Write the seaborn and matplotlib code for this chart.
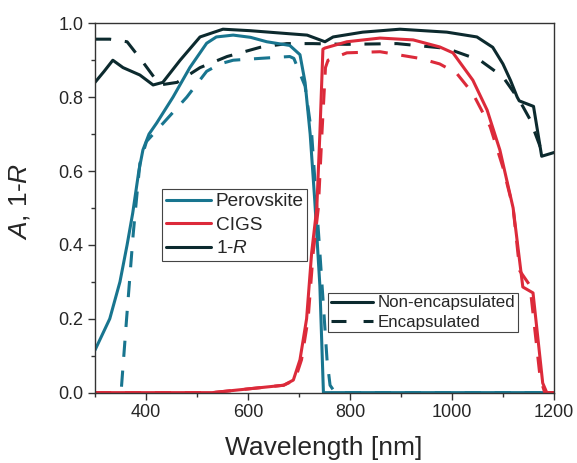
import matplotlib
matplotlib.use("Agg")
import matplotlib.pyplot as plt
from matplotlib.lines import Line2D
from matplotlib.ticker import MultipleLocator, FormatStrFormatter
import pandas as pd
import seaborn as sns

# Perovskite absorptance
pero_wl = [300, 329, 349, 363, 374, 386, 394, 406, 421, 453, 486, 519, 538, 571, 605, 637, 682, 702, 712, 722, 731, 741, 748, 760, 1200]
pero_A = [0.115, 0.20, 0.30, 0.40, 0.486, 0.60, 0.657, 0.70, 0.73, 0.80, 0.88, 0.946, 0.963, 0.968, 0.962, 0.95, 0.94, 0.915, 0.84, 0.70, 0.52, 0.29, 0.0, 0.0, 0.0]
pero_enc_wl = [352, 362, 375, 388, 401, 434, 480, 519, 545, 571, 624, 682, 690, 712, 725, 741, 755, 761, 771, 1200]
pero_enc_A = [0.016, 0.20, 0.43, 0.62, 0.68, 0.73, 0.80, 0.87, 0.89, 0.90, 0.905, 0.91, 0.905, 0.83, 0.70, 0.38, 0.09, 0.02, 0.0, 0.0]

# CIGS absorptance
cigs_wl = [300, 530, 600, 670, 689, 702, 715, 725, 735, 741, 747, 751, 794, 859, 924, 976, 1002, 1041, 1069, 1094, 1120, 1139, 1159, 1178, 1186, 1200]
cigs_A = [0.0, 0.0, 0.01, 0.02, 0.034, 0.089, 0.20, 0.38, 0.50, 0.70, 0.93, 0.933, 0.95, 0.96, 0.955, 0.936, 0.92, 0.846, 0.765, 0.657, 0.50, 0.286, 0.27, 0.026, 0.0, 0.0]
cigs_enc_wl = [300, 530, 600, 670, 692, 705, 718, 728, 738, 745, 752, 757, 794, 859, 937, 976, 1009, 1041, 1075, 1100, 1120, 1133, 1153, 1173, 1182, 1200]
cigs_enc_A = [0.0, 0.0, 0.01, 0.02, 0.034, 0.089, 0.20, 0.38, 0.50, 0.70, 0.88, 0.90, 0.92, 0.923, 0.905, 0.89, 0.865, 0.81, 0.72, 0.61, 0.50, 0.33, 0.29, 0.04, 0.0, 0.0]

# 1-R
r_wl = [300, 318, 335, 355, 388, 414, 433, 467, 506, 551, 604, 669, 716, 751, 767, 825, 898, 990, 1049, 1080, 1100, 1115, 1128, 1132, 1160, 1176, 1200]
r_val = [0.84, 0.87, 0.90, 0.88, 0.86, 0.833, 0.84, 0.90, 0.963, 0.984, 0.98, 0.973, 0.968, 0.95, 0.963, 0.976, 0.984, 0.976, 0.963, 0.935, 0.89, 0.845, 0.80, 0.79, 0.775, 0.64, 0.65]
r_enc_wl = [300, 329, 363, 394, 427, 461, 506, 559, 624, 676, 727, 794, 892, 990, 1055, 1100, 1133, 1153, 1173, 1198]
r_enc_val = [0.957, 0.957, 0.95, 0.895, 0.833, 0.84, 0.88, 0.91, 0.935, 0.945, 0.945, 0.943, 0.945, 0.932, 0.90, 0.855, 0.79, 0.74, 0.666, 0.65]

c_pero = "#18758f"
c_cigs = "#dc2a3a"
c_r = "#0c2a2e"

sns.set_style("ticks")
plt.rcParams["font.family"] = ["Liberation Sans", "DejaVu Sans"]
plt.rcParams["mathtext.fontset"] = "custom"
plt.rcParams["mathtext.it"] = "Liberation Sans:italic"
plt.rcParams["mathtext.rm"] = "Liberation Sans"

fig = plt.figure(figsize=(5.77, 4.63), dpi=100)
ax = fig.add_axes([0.1646, 0.152, 0.7954, 0.7977])

lw = 2.2
dash = (5.3, 4.5)
series = [
    (r_wl, r_val, c_r, "-"), (r_enc_wl, r_enc_val, c_r, "--"),
    (pero_enc_wl, pero_enc_A, c_pero, "--"), (pero_wl, pero_A, c_pero, "-"),
    (cigs_enc_wl, cigs_enc_A, c_cigs, "--"), (cigs_wl, cigs_A, c_cigs, "-"),
]
for wl, val, col, ls in series:
    df = pd.DataFrame({"wl": wl, "val": val})
    sns.lineplot(data=df, x="wl", y="val", ax=ax, color=col, linewidth=lw,
                 estimator=None, sort=False)
    if ls == "--":
        ax.lines[-1].set_dashes(dash)

ax.set_xlim(300, 1200)
ax.set_ylim(0, 1.0)
ax.xaxis.set_major_locator(MultipleLocator(200))
ax.xaxis.set_minor_locator(MultipleLocator(100))
ax.yaxis.set_major_locator(MultipleLocator(0.2))
ax.yaxis.set_minor_locator(MultipleLocator(0.1))
ax.yaxis.set_major_formatter(FormatStrFormatter("%.1f"))
ax.tick_params(which="major", direction="out", length=5, width=1, labelsize=13, color="#333333")
ax.tick_params(which="minor", direction="out", length=3, width=1, color="#333333")
for s in ax.spines.values():
    s.set_linewidth(1.0)
    s.set_color("#333333")
ax.set_xlabel("Wavelength [nm]", fontsize=19)
ax.set_ylabel("$A$, 1-$R$", fontsize=19)
ax.xaxis.set_label_coords(0.498, -0.118)
ax.yaxis.set_label_coords(-0.137, 0.519)

h1 = [Line2D([], [], color=c_pero, lw=lw), Line2D([], [], color=c_cigs, lw=lw),
      Line2D([], [], color=c_r, lw=lw)]
leg1 = ax.legend(h1, ["Perovskite", "CIGS", "1-$R$"], loc="upper left",
                 bbox_to_anchor=(0.146, 0.551), fontsize=13.7, frameon=True, fancybox=False,
                 edgecolor="#444444", framealpha=1, borderpad=0.2, labelspacing=0.33,
                 handlelength=2.36, handletextpad=0.26, borderaxespad=0)
leg1.get_frame().set_linewidth(0.8)
ax.add_artist(leg1)

h2 = [Line2D([], [], color=c_r, lw=lw),
      Line2D([], [], color=c_r, lw=lw, dashes=(4.9, 5.6))]
leg2 = ax.legend(h2, ["Non-encapsulated", "Encapsulated"], loc="upper left",
                 bbox_to_anchor=(0.508, 0.27), fontsize=12.2, frameon=True, fancybox=False,
                 edgecolor="#444444", framealpha=1, borderpad=0.15, labelspacing=0.25,
                 handlelength=2.5, handletextpad=0.3, borderaxespad=0)
leg2.get_frame().set_linewidth(0.8)

fig.savefig("out.png", dpi=100)
